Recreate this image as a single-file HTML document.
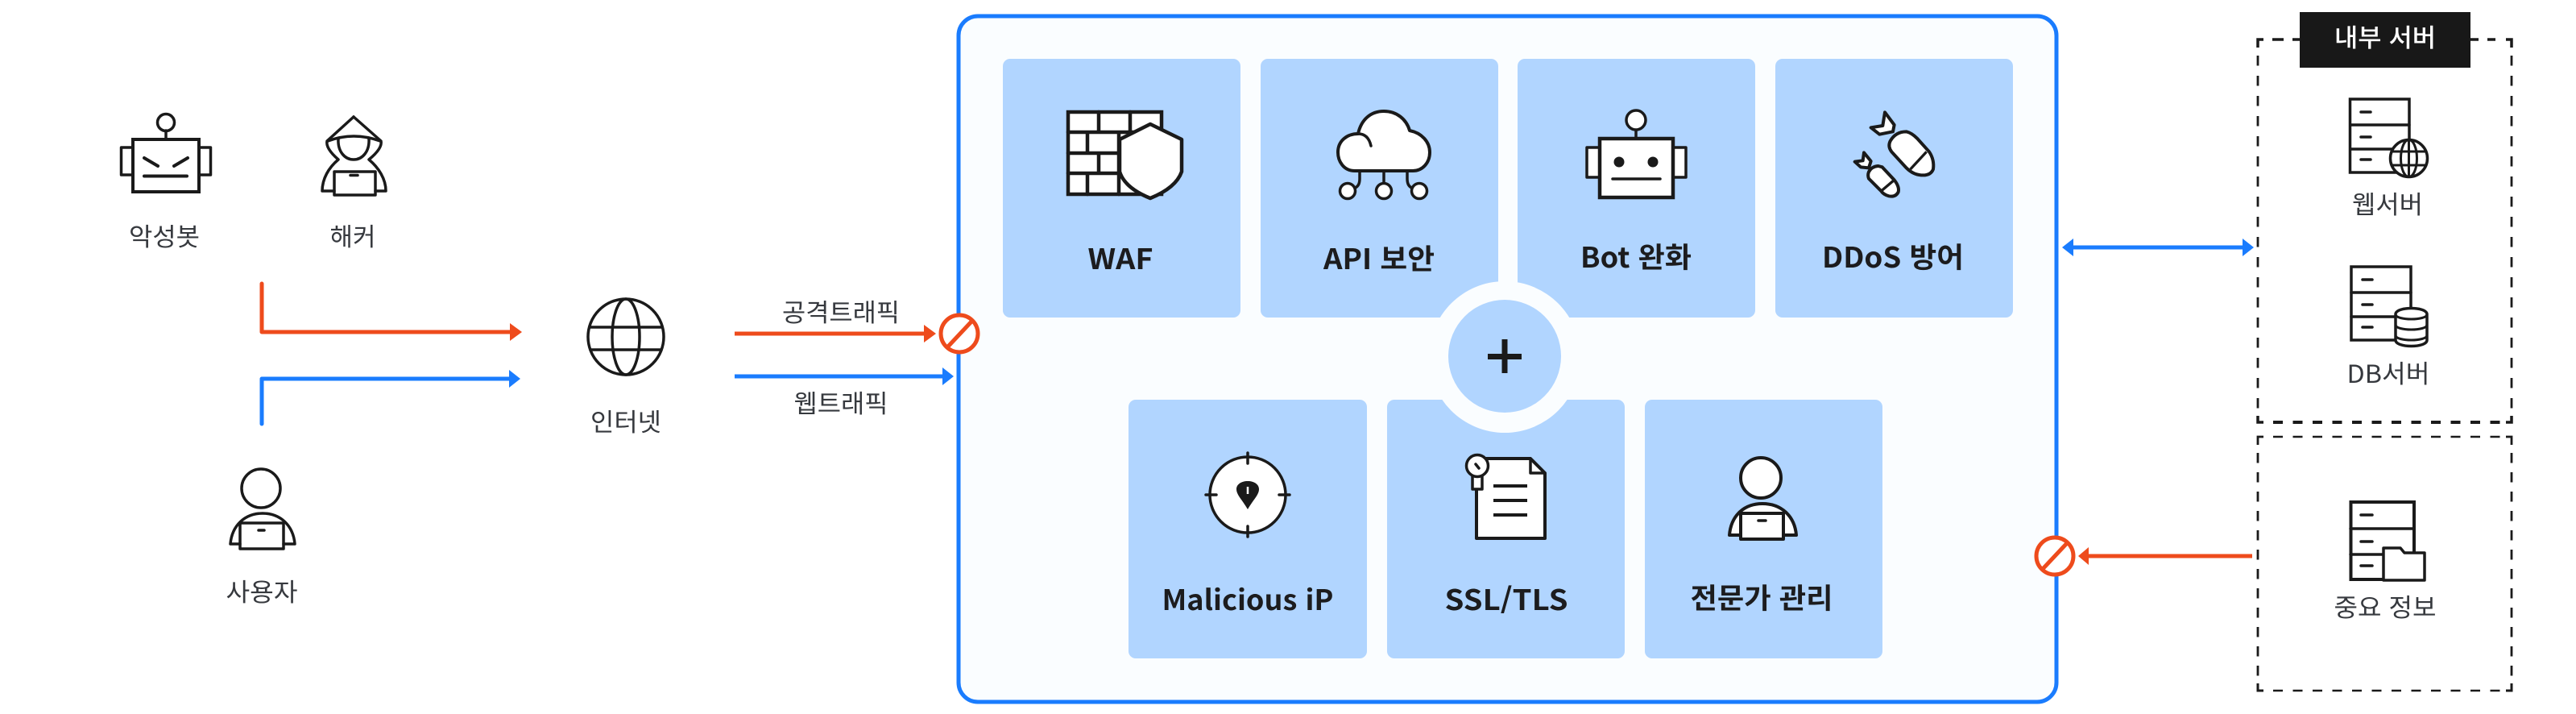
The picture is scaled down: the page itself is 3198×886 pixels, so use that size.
<!DOCTYPE html>
<html lang="ko"><head><meta charset="utf-8"><title>WAF diagram</title>
<style>
html,body{margin:0;padding:0;background:#fff;width:3198px;height:886px;overflow:hidden}
svg{display:block}
text{font-family:"Noto Sans CJK KR",sans-serif;text-anchor:middle}
.l{font-size:31px;fill:#36393e}
.b{font-size:35px;fill:#1c1c1e;font-weight:600}
.k{fill:none;stroke:#1a1a1a;stroke-width:3.5;stroke-linejoin:round;stroke-linecap:round}
.w{fill:#fff;stroke:#1a1a1a;stroke-width:3.5;stroke-linejoin:round;stroke-linecap:round}
.c{fill:#b1d5ff}
.d{stroke:#1a1a1a;fill:none}
</style></head><body>
<svg width="3198" height="886" viewBox="0 0 3198 886" xmlns="http://www.w3.org/2000/svg">
<rect width="3198" height="886" fill="#fff"/>

<!-- main container -->
<rect x="1190" y="20" width="1363" height="851" rx="24" fill="#fafdff" stroke="#1a7cfe" stroke-width="5"/>
<rect class="c" x="1245" y="73" width="295" height="321" rx="9"/>
<rect class="c" x="1565" y="73" width="295" height="321" rx="9"/>
<rect class="c" x="1884" y="73" width="295" height="321" rx="9"/>
<rect class="c" x="2204" y="73" width="295" height="321" rx="9"/>
<rect class="c" x="1401" y="496" width="296" height="321" rx="9"/>
<rect class="c" x="1722" y="496" width="295" height="321" rx="9"/>
<rect class="c" x="2042" y="496" width="295" height="321" rx="9"/>
<circle cx="1868" cy="443" r="94" fill="#fafdff"/>
<circle cx="1868" cy="442" r="70" fill="#b1d5ff"/>
<path d="M1847 442.500H1889M1868 421V463" stroke="#1a1a1a" stroke-width="7" fill="none"/>

<!-- WAF icon -->
<rect x="1326" y="139" width="116" height="102" class="w" style="stroke-width:4.500;stroke-linejoin:miter"/>
<path d="M1326 164H1442M1326 190H1442M1326 215H1442M1364 139V164M1403 139V164M1350 164V190M1389 164V190M1364 190V215M1389 190V215M1350 215V241M1389 215V241" class="k" style="stroke-width:4.500"/>
<path d="M1428 154L1467 173V213Q1460 233 1428 246Q1396 233 1390 213V173Z" class="w" style="stroke-width:4.500"/>

<!-- cloud icon -->
<path d="M1688 212V222Q1688 232 1680 234M1718 212V227M1747 212V222Q1747 232 1755 234" class="k"/>
<circle cx="1673" cy="237" r="9.500" class="w"/><circle cx="1718" cy="237" r="9.500" class="w"/><circle cx="1762" cy="237" r="9.500" class="w"/>
<path d="M1682 212C1668 212 1661 200 1661 189C1661 175 1672 166 1686 166C1690 148 1702 138 1718 138C1734 138 1746 148 1750 162C1765 165 1775 176 1775 189C1775 202 1766 212 1754 212Z" class="w" style="stroke-width:4"/>
<path d="M1686 166C1695 166 1700 172 1702 181" class="k"/>

<!-- bot icon -->
<path d="M2031 161V172" class="k"/>
<circle cx="2031" cy="149" r="12" class="w"/>
<rect x="1970" y="183" width="16" height="37" class="w"/>
<rect x="2077" y="183" width="16" height="37" class="w"/>
<rect x="1986" y="172" width="91" height="73" class="w" style="stroke-width:4.500;stroke-linejoin:miter"/>
<circle cx="2010" cy="201" r="6.500" fill="#1a1a1a"/><circle cx="2052" cy="201" r="6.500" fill="#1a1a1a"/>
<path d="M2002 222H2061" class="k"/>

<!-- bombs icon -->
<g transform="translate(2300 130) scale(.3333)">
<path d="M120 28L155 75L150 100L100 110L68 85L112 78Z" fill="#fff" stroke="#1a1a1a" stroke-width="12" stroke-linejoin="round"/>
<path d="M140 135Q160 100 200 100Q220 105 240 125L285 175Q305 205 300 240Q290 265 255 262Q225 260 200 235L145 175Q130 155 140 135Z" fill="#fff" stroke="#1a1a1a" stroke-width="12"/>
<path d="M215 240L275 175" stroke="#1a1a1a" stroke-width="10" fill="none"/>
<path d="M42 178L68 210L60 235L30 232L8 212L38 208Z" fill="#fff" stroke="#1a1a1a" stroke-width="12" stroke-linejoin="round"/>
<path d="M60 250Q70 230 95 228L110 232L155 280Q175 305 170 325Q160 345 135 340Q115 335 105 320L60 275Q55 262 60 250Z" fill="#fff" stroke="#1a1a1a" stroke-width="12"/>
<path d="M110 318L155 280" stroke="#1a1a1a" stroke-width="10" fill="none"/>
</g>

<!-- target icon -->
<circle cx="1549" cy="614" r="47" class="w"/>
<path d="M1549 562V575M1549 653V666M1497 614H1510M1588 614H1601" class="k" style="stroke-width:3.500"/>
<path d="M1549 632C1542 620 1535 614 1535 607C1535 601 1541 597 1549 597C1557 597 1563 601 1563 607C1563 614 1556 620 1549 632Z" fill="#1a1a1a"/>
<path d="M1549 604V613" stroke="#fff" stroke-width="2.500"/>

<!-- doc icon -->
<path d="M1833 569H1900L1918 587V668H1833Z" class="w" style="stroke-width:4"/>
<path d="M1900 569V587H1918" class="k"/>
<path d="M1854 603H1896M1854 621H1896M1854 639H1896" class="k" style="stroke-width:4;stroke-linecap:butt"/>
<rect x="1828" y="590" width="12" height="17" class="w"/>
<circle cx="1834" cy="578" r="13.500" class="w"/>
<path d="M1832 576L1836 581" class="k"/>

<!-- expert icon -->
<circle cx="2186" cy="593" r="25" class="w" style="stroke-width:4"/>
<path d="M2147 664C2149 640 2165 625 2188 625C2211 625 2228 640 2230 664H2214V637H2161V664Z" class="w" style="stroke-width:4"/>
<rect x="2161" y="637" width="53" height="32" class="w" style="stroke-width:4"/>
<path d="M2183 646H2192" class="k"/>

<text class="b" x="1391" y="334" textLength="81" lengthAdjust="spacingAndGlyphs">WAF</text>
<text class="b" x="1712" y="334" textLength="138" lengthAdjust="spacingAndGlyphs">API 보안</text>
<text class="b" x="2031" y="332" textLength="138" lengthAdjust="spacingAndGlyphs">Bot 완화</text>
<text class="b" x="2350" y="332" textLength="176" lengthAdjust="spacingAndGlyphs">DDoS 방어</text>
<text class="b" x="1549" y="757" textLength="213" lengthAdjust="spacingAndGlyphs">Malicious iP</text>
<text class="b" x="1870" y="757" textLength="153" lengthAdjust="spacingAndGlyphs">SSL/TLS</text>
<text class="b" x="2187" y="755" textLength="177" lengthAdjust="spacingAndGlyphs">전문가 관리</text>

<!-- left robot -->
<path d="M206 162V173" class="k"/>
<circle cx="206" cy="152" r="10.500" class="k"/>
<rect x="150.500" y="183" width="14.500" height="34" class="k"/>
<rect x="247" y="183" width="14.500" height="34" class="k"/>
<rect x="165" y="173" width="82" height="65" class="k" style="stroke-width:4;stroke-linejoin:miter"/>
<path d="M179 196L196 206M233 196L216 206M179 218.500H232" class="k" style="stroke-width:4"/>

<!-- hacker -->
<path d="M439 145L473 175Q475 184 458 198C470 208 479 222 479 237H466" class="k"/>
<path d="M415 237H400C400 222 408 208 420 198Q404 184 406 175L439 145" class="k"/>
<path d="M407 175Q439 163 472 175" class="k"/>
<path d="M420 172C419 188 428 198 439 198C450 198 459 188 458 172" class="k"/>
<rect x="415" y="213" width="51" height="29" class="k"/>
<path d="M435 217.500H444" class="k"/>

<!-- user -->
<circle cx="324" cy="606" r="24" class="k"/>
<path d="M298 675H286C288 652 304 637 326 637C348 637 364 652 366 675H352" class="k"/>
<rect x="298" y="649" width="54" height="32" class="k"/>
<path d="M321 658H328" class="k"/>

<!-- globe -->
<circle cx="777" cy="418" r="47" class="k"/>
<ellipse cx="777" cy="418" rx="17" ry="47" class="k"/>
<path d="M733 406H821M733 434H821" class="k"/>

<text class="l" x="204" y="305" textLength="88" lengthAdjust="spacingAndGlyphs">악성봇</text>
<text class="l" x="438" y="305" textLength="57" lengthAdjust="spacingAndGlyphs">해커</text>
<text class="l" x="325" y="746" textLength="89" lengthAdjust="spacingAndGlyphs">사용자</text>
<text class="l" x="777" y="535" textLength="88" lengthAdjust="spacingAndGlyphs">인터넷</text>
<text class="l" x="1044" y="399" textLength="146" lengthAdjust="spacingAndGlyphs">공격트래픽</text>
<text class="l" x="1044" y="512" textLength="117" lengthAdjust="spacingAndGlyphs">웹트래픽</text>

<!-- connectors -->
<path d="M325 352V412H634" fill="none" stroke="#ee4b1c" stroke-width="5" stroke-linejoin="round" stroke-linecap="round"/>
<path d="M633 401L648 412L633 423Z" fill="#ee4b1c"/>
<path d="M325 526V470H634" fill="none" stroke="#1a7cfe" stroke-width="5" stroke-linejoin="round" stroke-linecap="round"/>
<path d="M632 459L646 470L632 481Z" fill="#1a7cfe"/>
<path d="M912 414H1150" fill="none" stroke="#ee4b1c" stroke-width="5"/>
<path d="M1147 403L1162 414L1147 425Z" fill="#ee4b1c"/>
<path d="M912 467H1172" fill="none" stroke="#1a7cfe" stroke-width="5"/>
<path d="M1170 456L1184 467L1170 478Z" fill="#1a7cfe"/>
<circle cx="1191" cy="414" r="23" fill="#fff" stroke="#ee4b1c" stroke-width="5"/>
<path d="M1176 431L1207 398" stroke="#ee4b1c" stroke-width="5"/>

<path d="M2570 307H2788" fill="none" stroke="#1a7cfe" stroke-width="5"/>
<path d="M2574 296L2560 307L2574 318Z" fill="#1a7cfe"/>
<path d="M2784 296L2798 307L2784 318Z" fill="#1a7cfe"/>
<path d="M2796 690H2590" fill="none" stroke="#ee4b1c" stroke-width="5"/>
<path d="M2593 679L2580 690L2593 701Z" fill="#ee4b1c"/>
<circle cx="2551" cy="690" r="23" fill="#fff" stroke="#ee4b1c" stroke-width="5"/>
<path d="M2535 707L2567 673" stroke="#ee4b1c" stroke-width="5"/>

<!-- dashed boxes -->
<path d="M2803 59V49H2810M2821 49H2835M2846 49H2856M3067 49H3077M3088 49H3098M3111 49H3118V59" class="d" stroke-width="3.500"/>
<path d="M2803 69V518" class="d" stroke-width="2.800" stroke-dasharray="12.500 12.500"/>
<path d="M3118 69V518" class="d" stroke-width="2.800" stroke-dasharray="12.500 12.500"/>
<path d="M2803 516V524H2810M3111 524H3118V516" class="d" stroke-width="3.500"/>
<path d="M2822 524H3105" class="d" stroke-width="4" stroke-dasharray="12 12.500"/>
<path d="M2803 552V542H2810M3111 542H3118V552" class="d" stroke-width="2.800"/>
<path d="M2822 542H3105" class="d" stroke-width="2.500" stroke-dasharray="12 12.500"/>
<path d="M2803 562V848" class="d" stroke-width="2.800" stroke-dasharray="12.500 11.500"/>
<path d="M3118 562V848" class="d" stroke-width="2.800" stroke-dasharray="12.500 11.500"/>
<path d="M2803 848V857H2810M3111 857H3118V848" class="d" stroke-width="3"/>
<path d="M2822 857H3105" class="d" stroke-width="2.500" stroke-dasharray="12 12.500"/>

<rect x="2855" y="15" width="212" height="69" fill="#181818"/>
<text x="2961" y="58" style="font-size:31px;fill:#fff;font-weight:500" textLength="126" lengthAdjust="spacingAndGlyphs">내부 서버</text>

<!-- web server -->
<rect x="2917.500" y="123" width="73.500" height="91" class="k" style="stroke-width:3.500;stroke-linejoin:miter"/>
<path d="M2918 155H2991M2918 185H2991M2931 139H2943M2931 170H2943M2931 198H2943" class="k"/>
<circle cx="2990.500" cy="196.500" r="23" fill="#fff" stroke="#1a1a1a" stroke-width="3.500"/>
<ellipse cx="2990.500" cy="196.500" rx="10" ry="23" class="k" style="stroke-width:3"/>
<path d="M2990.500 174V219M2969 188H3012M2969 205H3012" class="k" style="stroke-width:3"/>
<text class="l" x="2964" y="265" textLength="88" lengthAdjust="spacingAndGlyphs">웹서버</text>

<!-- db server -->
<rect x="2919" y="331" width="74" height="91" class="k" style="stroke-width:3.500;stroke-linejoin:miter"/>
<path d="M2919 363H2993M2919 393H2993M2933 347H2945M2933 378H2945M2933 406H2945" class="k"/>
<path d="M2974 390C2974 380 3013 380 3013 390V422C3013 432 2974 432 2974 422Z" fill="#fff" stroke="#1a1a1a" stroke-width="3.500"/>
<path d="M2974 390C2974 398 3013 398 3013 390M2974 403C2974 411 3013 411 3013 403M2974 416C2974 424 3013 424 3013 416" class="k" style="stroke-width:3"/>
<text class="l" x="2965" y="475" textLength="103" lengthAdjust="spacingAndGlyphs">DB서버</text>

<!-- folder server -->
<rect x="2918.500" y="623" width="78.500" height="96" class="k" style="stroke-width:4;stroke-linejoin:miter"/>
<path d="M2918 656H2997M2918 688H2997M2931 639H2945M2931 672H2945M2931 702H2945" class="k"/>
<path d="M2959 720V680H2980L2985 686H3010V720Z" fill="#fff" stroke="#1a1a1a" stroke-width="3.500" stroke-linejoin="round"/>
<text class="l" x="2961" y="765" textLength="127" lengthAdjust="spacingAndGlyphs">중요 정보</text>
</svg>
</body></html>
